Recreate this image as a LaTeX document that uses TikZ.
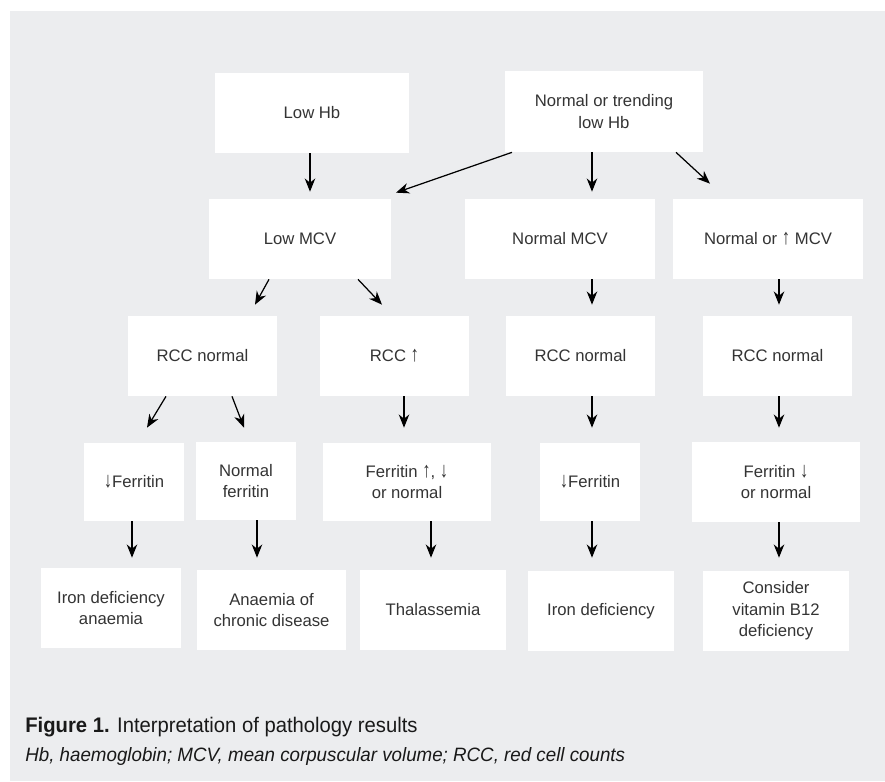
\documentclass[tikz,border=0pt]{standalone}
\usepackage{fontspec}
\setmainfont{Liberation Sans}
\newfontfamily\capfont[FakeStretch=0.96]{Liberation Sans}
\newfontfamily\legfont[FakeStretch=0.97]{Liberation Sans}
\usepackage{xcolor}
\usepackage{graphicx}
\usepackage{tikz}
\usetikzlibrary{arrows.meta}

\definecolor{panelgray}{RGB}{236,237,239}
\definecolor{boxtext}{RGB}{52,52,52}

\newcommand{\upar}{\scalebox{1}[1.3]{↑}}
\newcommand{\dnar}{\scalebox{1}[1.3]{↓}}

\tikzset{
  box/.style={fill=white, align=center, inner sep=2pt, text=boxtext,
    font=\fontsize{9.5}{12.3}\selectfont},
  arr/.style={-{Stealth[length=7.5pt, width=6pt, inset=2.4pt]}, line width=0.7pt, black},
}

\begin{document}
\begin{tikzpicture}[x=0.02cm, y=-0.02cm]
        \fill[white] (0,0) rectangle (885,781);
        \fill[panelgray] (10,11) rectangle (885,781);
        \useasboundingbox (0,0) rectangle (885,781);

        % haemoglobin
        \node[box, minimum width=3.88cm, minimum height=1.6cm] (lowhb) at (312,113) {Low Hb};
        \node[box, minimum width=3.96cm, minimum height=1.62cm] (normhb) at (604,111.5) {Normal or trending\\low Hb};

        % mcv
        \node[box, minimum width=3.64cm, minimum height=1.6cm] (lowmcv) at (300,239) {Low MCV};
        \node[box, minimum width=3.8cm, minimum height=1.6cm] (normmcv) at (560,239) {Normal MCV};
        \node[box, minimum width=3.8cm, minimum height=1.6cm] (highmcv) at (768,239) {Normal or \upar{} MCV};

        % red cell counts
        \node[box, minimum width=2.98cm, minimum height=1.6cm] (rcca) at (202.5,356) {RCC normal};
        \node[box, minimum width=2.98cm, minimum height=1.6cm] (rccb) at (394.5,356) {RCC \upar};
        \node[box, minimum width=2.98cm, minimum height=1.6cm] (rccc) at (580.5,356) {RCC normal};
        \node[box, minimum width=2.98cm, minimum height=1.6cm] (rccd) at (777.5,356) {RCC normal};

        % ferritin
        \node[box, minimum width=2.0cm, minimum height=1.56cm] (fera) at (134,482) {\dnar Ferritin};
        \node[box, minimum width=2.0cm, minimum height=1.56cm] (ferb) at (246,481) {Normal\\ferritin};
        \node[box, minimum width=3.36cm, minimum height=1.56cm] (ferc) at (407,482) {Ferritin \upar, \dnar\\or normal};
        \node[box, minimum width=2.0cm, minimum height=1.56cm] (ferd) at (590,482) {\dnar Ferritin};
        \node[box, minimum width=3.36cm, minimum height=1.6cm] (fere) at (776,482) {Ferritin \dnar\\or normal};

        % outcomes
        \node[box, minimum width=2.8cm, minimum height=1.6cm] (outa) at (111,608) {Iron deficiency\\anaemia};
        \node[box, minimum width=2.98cm, minimum height=1.6cm] (outb) at (271.5,610) {Anaemia of\\chronic disease};
        \node[box, minimum width=2.92cm, minimum height=1.6cm] (outc) at (433,610) {Thalassemia};
        \node[box, minimum width=2.92cm, minimum height=1.6cm] (outd) at (601,611) {Iron deficiency};
        \node[box, minimum width=2.92cm, minimum height=1.6cm] (oute) at (776,611) {Consider\\vitamin B12\\deficiency};

        \draw[arr] (310,0 |- lowhb.south) -- ([yshift=0.14cm]310,0 |- lowmcv.north);
        \draw[arr] (512,0 |- normhb.south) -- ([yshift=0.12cm]396,0 |- lowmcv.north);
        \draw[arr] (592,0 |- normhb.south) -- ([yshift=0.14cm]592,0 |- normmcv.north);
        \draw[arr] (676,0 |- normhb.south) -- ([yshift=0.3cm]710,0 |- highmcv.north);

        \draw[arr] (269,0 |- lowmcv.south) -- ([yshift=0.22cm]255,0 |- rcca.north);
        \draw[arr] (358,0 |- lowmcv.south) -- ([yshift=0.22cm]382,0 |- rccb.north);
        \draw[arr] (592,0 |- normmcv.south) -- ([yshift=0.22cm]592,0 |- rccc.north);
        \draw[arr] (779,0 |- highmcv.south) -- ([yshift=0.22cm]779,0 |- rccd.north);

        \draw[arr] (166,0 |- rcca.south) -- ([yshift=0.3cm]147,0 |- fera.north);
        \draw[arr] (232,0 |- rcca.south) -- ([yshift=0.28cm]244,0 |- ferb.north);
        \draw[arr] (404,0 |- rccb.south) -- ([yshift=0.3cm]404,0 |- ferc.north);
        \draw[arr] (592,0 |- rccc.south) -- ([yshift=0.3cm]592,0 |- ferd.north);
        \draw[arr] (779,0 |- rccd.south) -- ([yshift=0.28cm]779,0 |- fere.north);

        \draw[arr] (132,0 |- fera.south) -- ([yshift=0.2cm]132,0 |- outa.north);
        \draw[arr] (257,0 |- ferb.south) -- ([yshift=0.24cm]257,0 |- outb.north);
        \draw[arr] (431,0 |- ferc.south) -- ([yshift=0.24cm]431,0 |- outc.north);
        \draw[arr] (592,0 |- ferd.south) -- ([yshift=0.26cm]592,0 |- outd.north);
        \draw[arr] (779,0 |- fere.south) -- ([yshift=0.26cm]779,0 |- oute.north);

        % caption
        \node[anchor=base west, inner sep=0pt, text=black!90, font=\capfont\fontsize{12}{14}\selectfont] (caption) at (25,732) {\textbf{Figure 1.} Interpretation of pathology results};
        \node[anchor=base west, inner sep=0pt, text=black!90, font=\legfont\itshape\fontsize{11}{13}\selectfont] (legend) at (25,761) {Hb, haemoglobin; MCV, mean corpuscular volume; RCC, red cell counts};
\end{tikzpicture}
\end{document}
